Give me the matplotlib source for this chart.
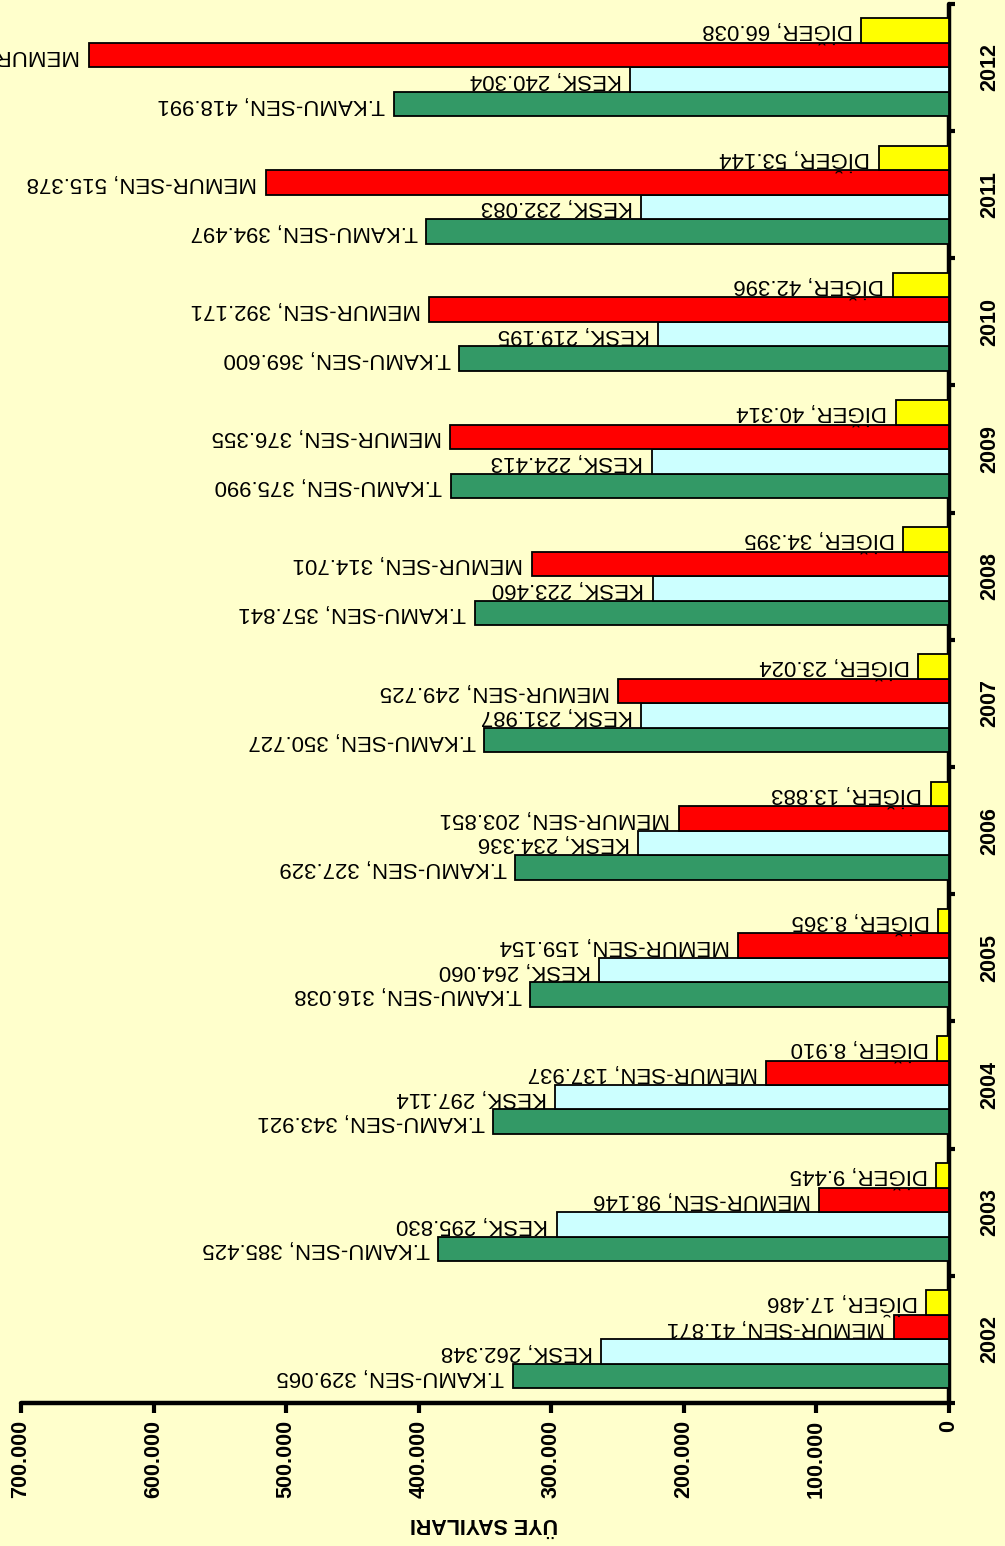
import numpy as np
import matplotlib
matplotlib.use("Agg")
import matplotlib.pyplot as plt
from matplotlib.ticker import FixedLocator, FuncFormatter

plt.rcParams['font.family'] = ['Liberation Sans', 'DejaVu Sans']

# Sendika üye sayıları (2002-2012)
years = ['2002', '2003', '2004', '2005', '2006', '2007', '2008', '2009', '2010', '2011', '2012']
unions = ['T.KAMU-SEN', 'KESK', 'MEMUR-SEN', 'DİĞER']
t_kamu_sen = [329065, 385425, 343921, 316038, 327329, 350727, 357841, 375990, 369600, 394497, 418991]
kesk = [262348, 295830, 297114, 264060, 234336, 231987, 223460, 224413, 219195, 232083, 240304]
memur_sen = [41871, 98146, 137937, 159154, 203851, 249725, 314701, 376355, 392171, 515378, 649000]
diger = [17486, 9445, 8910, 8365, 13883, 23024, 34395, 40314, 42396, 53144, 66038]
colors = ['#339966', '#CCFFFF', '#FF0000', '#FFFF00']
value_ticks = [0, 100000, 200000, 300000, 400000, 500000, 600000, 700000]

series = [t_kamu_sen, kesk, memur_sen, diger]
bg = '#FFFFCC'


def tr_num(v):
    return f"{int(v):,}".replace(',', '.')


fig = plt.figure(figsize=(10.05, 15.46), dpi=100, facecolor=bg)
ax = fig.add_axes([0.0209, 0.0925, 0.9234, 0.905])
ax.set_facecolor(bg)

w = 0.1925
y = np.arange(len(years))
for k, (vals, col) in enumerate(zip(series, colors)):
    pos = y + (k - 1.5) * w
    ax.barh(pos, vals, height=w, color=col, edgecolor='black', linewidth=1.3, zorder=3)
    for p, v in zip(pos, vals):
        ax.annotate(f"{unions[k]}, {tr_num(v)}", xy=(v, p), xytext=(-6, 0),
                    textcoords='offset points', rotation=180, ha='right', va='center',
                    fontsize=16, annotation_clip=False)

ax.set_xlim(700000, 0)
ax.set_ylim(-0.5, len(years) - 0.5)

for s in ['top', 'left']:
    ax.spines[s].set_visible(False)
for s in ['right', 'bottom']:
    ax.spines[s].set_linewidth(3.2)
    ax.spines[s].set_capstyle('round')

ax.xaxis.set_major_locator(FixedLocator(value_ticks))
ax.xaxis.set_major_formatter(FuncFormatter(lambda v, _: tr_num(v)))
ax.tick_params(axis='x', direction='out', length=7, width=3, pad=5)
for lab in ax.get_xticklabels():
    lab.set_rotation(90)
    lab.set_fontsize(15.5)
    lab.set_fontweight('bold')
    lab.set_va('top')
    lab.set_ha('center')

ax.yaxis.tick_right()
ax.set_yticks(y)
ax.set_yticklabels(years, rotation=90, fontsize=15.5, fontweight='bold', va='center')
ax.set_yticks(np.arange(-0.5, len(years)), minor=True)
ax.tick_params(axis='y', which='major', length=0, pad=22)
ax.tick_params(axis='y', which='minor', direction='out', length=4, width=3)

fig.text(0.482, 0.0145, 'ÜYE SAYILARI', rotation=180, ha='center', va='center',
         fontsize=15.5, fontweight='bold')

fig.savefig('out.png', dpi=100, facecolor=bg)
